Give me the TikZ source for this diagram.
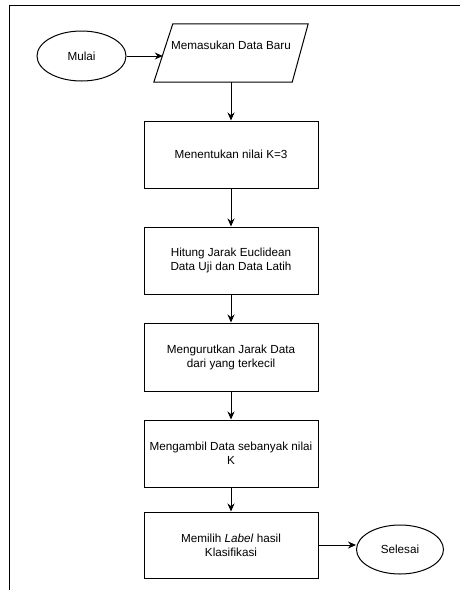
\documentclass[tikz,border=0pt]{standalone}
\usepackage{fontspec}
\setmainfont{Liberation Sans}
\usetikzlibrary{arrows.meta,calc,shapes.geometric}
\begin{document}
\begin{tikzpicture}[x=1pt,y=-1pt,
  every node/.style={font=\fontsize{11.7}{14}\selectfont},
  proc/.style={draw, line width=1pt, minimum width=174pt, minimum height=67pt, align=center, inner sep=2pt},
  term/.style={draw, ellipse, line width=1pt, minimum width=88pt, minimum height=50pt, inner sep=0pt},
  arr/.style={line width=1pt, -{Stealth[length=8pt,width=7pt]}},
  frame/.style={line width=1pt}]
\useasboundingbox (0,0) rectangle (460,590);
% frame
\draw[frame] (9,590) -- (9,5) -- (460,5);
% start
\node[term, minimum width=89pt] (mulai) at (81.5,56) {Mulai};
% input parallelogram
\node[minimum width=154pt, minimum height=58pt, inner sep=0pt] (in) at (231,53) {};
\draw[line width=1pt] (in.south west) -- ($(in.north west)+(19,0)$) -- (in.north east) -- ($(in.south east)+(-16,0)$) -- cycle;
\node (intext) at (231,45) {Memasukan Data Baru};
\coordinate (inL) at ($(in.west)+(9,0)$);
% process boxes
\node[proc] (b1) at (231,154.5) {Menentukan nilai K=3};
\node[proc] (b2) at (231,260.5) {Hitung Jarak Euclidean\\Data Uji dan Data Latih};
\node[proc, minimum height=68pt] (b3) at (231,357) {Mengurutkan Jarak Data\\dari yang terkecil};
\node[proc] (b4) at (231,453.5) {Mengambil Data sebanyak nilai\\K};
\node[proc, minimum height=66pt] (b5) at (231,545) {Memilih \textit{Label} hasil\\Klasifikasi};
% end
\node[term, minimum width=87pt, minimum height=49pt] (sel) at (400,549.5) {Selesai};
% connectors
\draw[arr] (mulai.east) -- (mulai.east -| inL);
\draw[arr] (in.south) -- (b1.north);
\draw[arr] (b1.south) -- (b2.north);
\draw[arr] (b2.south) -- (b3.north);
\draw[arr] (b3.south) -- (b4.north);
\draw[arr] (b4.south) -- (b5.north);
\draw[arr] (b5.east) -- (b5.east -| sel.west);
\end{tikzpicture}
\end{document}
